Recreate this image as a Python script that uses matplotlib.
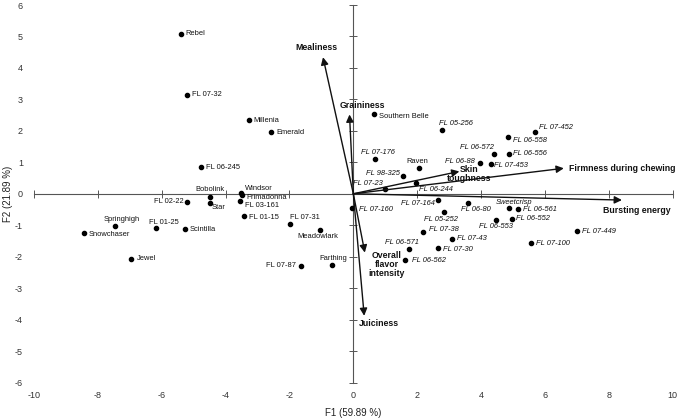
import numpy as np
import matplotlib.pyplot as plt

plt.rcParams['font.family'] = ['Liberation Sans', 'DejaVu Sans']
plt.rcParams['axes.unicode_minus'] = False

# observaciones (cultivares / lineas)
names = ["Rebel", "FL 07-32", "Millenia", "Emerald", "FL 06-245", "Bobolink",
         "Windsor", "Primadonna", "FL 02-22", "Star", "FL 03-161", "FL 01-15",
         "FL 07-31", "Meadowlark", "Springhigh", "FL 01-25", "Scintilla",
         "Snowchaser", "Jewel", "FL 07-87", "Farthing",
         "Southern Belle", "FL 05-256", "FL 07-452", "FL 06-558", "FL 06-572",
         "FL 06-556", "FL 06-88", "FL 07-453", "FL 07-176", "Raven", "FL 98-325",
         "FL 06-244", "FL 07-23",
         "FL 07-164", "FL 06-80", "Sweetcrisp", "FL 06-561", "FL 07-160",
         "FL 05-252", "FL 06-553", "FL 06-552", "FL 07-449", "FL 07-38",
         "FL 07-43", "FL 07-100", "FL 06-571", "FL 07-30", "FL 06-562"]
f1 = [-5.41, -5.20, -3.28, -2.58, -4.76, -4.50,
      -3.51, -3.50, -5.20, -4.49, -3.56, -3.42,
      -1.97, -1.03, -7.46, -6.19, -5.28,
      -8.44, -6.95, -1.64, -0.66,
      0.65, 2.77, 5.68, 4.83, 4.40,
      4.88, 3.96, 4.32, 0.67, 2.07, 1.56,
      1.96, 0.98,
      2.64, 3.58, 4.88, 5.17, -0.03,
      2.85, 4.47, 4.96, 7.00, 2.18,
      3.09, 5.56, 1.75, 2.65, 1.63]
f2 = [5.08, 3.15, 2.34, 1.95, 0.85, -0.10,
      0.02, -0.03, -0.26, -0.29, -0.23, -0.70,
      -0.96, -1.16, -1.04, -1.10, -1.12,
      -1.26, -2.07, -2.29, -2.28,
      2.53, 2.04, 1.95, 1.80, 1.25,
      1.27, 0.97, 0.96, 1.10, 0.83, 0.58,
      0.35, 0.15,
      -0.19, -0.28, -0.44, -0.48, -0.46,
      -0.59, -0.83, -0.80, -1.19, -1.21,
      -1.43, -1.57, -1.74, -1.71, -2.12]

# variables (vectores)
var_names = ["Mealiness", "Graininess", "Skin\ntoughness", "Firmness during chewing",
             "Bursting energy", "Overall\nflavor\nintensity", "Juiciness"]
var_f1 = [-0.95, -0.12, 3.32, 6.59, 8.41, 0.36, 0.34]
var_f2 = [4.34, 2.52, 0.71, 0.81, -0.20, -1.87, -3.88]

xticks = np.arange(-10, 11, 2)
yticks = np.arange(-6, 7, 1)

# posicion de etiquetas (pixeles respecto al punto)
lab_pos = {
    "Rebel": (5, 0, 'left'), "FL 07-32": (5, 0, 'left'), "Millenia": (5, 0, 'left'),
    "Emerald": (5, 0, 'left'), "FL 06-245": (5, 0, 'left'),
    "Bobolink": (0, 7, 'center'), "Windsor": (4, 5, 'left'),
    "Primadonna": (5, -3, 'left'), "FL 02-22": (-4, 0, 'right'),
    "Star": (2, -5, 'left'), "FL 03-161": (5, -5, 'left'), "FL 01-15": (5, -2, 'left'),
    "FL 07-31": (0, 6, 'left'), "Meadowlark": (-3, -6, 'center'),
    "Springhigh": (7, 7, 'center'), "FL 01-25": (8, 6, 'center'),
    "Scintilla": (5, -1, 'left'), "Snowchaser": (5, -1, 'left'), "Jewel": (5, 0, 'left'),
    "FL 07-87": (-5, 0, 'right'), "Farthing": (1, 7, 'center'),
    "Southern Belle": (5, -2, 'left'), "FL 05-256": (-3, 6, 'left'),
    "FL 07-452": (4, 5, 'left'), "FL 06-558": (5, -3, 'left'),
    "FL 06-572": (0, 7, 'right'), "FL 06-556": (4, 0, 'left'),
    "FL 06-88": (-5, 2, 'right'), "FL 07-453": (3, -2, 'left'),
    "FL 07-176": (3, 7, 'center'), "Raven": (-2, 6, 'center'),
    "FL 98-325": (-3, 2, 'right'), "FL 06-244": (3, -7, 'left'),
    "FL 07-23": (-2, 6, 'right'), "FL 07-164": (-3, -4, 'right'),
    "FL 06-80": (8, -7, 'center'), "Sweetcrisp": (5, 5, 'center'),
    "FL 06-561": (5, -1, 'left'), "FL 07-160": (7, -1, 'left'),
    "FL 05-252": (-3, -7, 'center'), "FL 06-553": (0, -7, 'center'),
    "FL 06-552": (4, 0, 'left'), "FL 07-449": (5, 0, 'left'),
    "FL 07-38": (6, 2, 'left'), "FL 07-43": (5, 0, 'left'),
    "FL 07-100": (5, 0, 'left'), "FL 06-571": (-7, 6, 'center'),
    "FL 07-30": (5, -2, 'left'), "FL 06-562": (7, 0, 'left'),
}
upright = {"Rebel", "FL 07-32", "Millenia", "Emerald", "FL 06-245", "Bobolink",
           "Windsor", "Primadonna", "FL 02-22", "Star", "FL 03-161", "FL 01-15",
           "FL 07-31", "Meadowlark", "Springhigh", "FL 01-25", "Scintilla",
           "Snowchaser", "Jewel", "FL 07-87", "Farthing", "Southern Belle", "Raven"}
var_pos = [(-7, 10, 'center'), (13, 9, 'center'), (10, -3, 'center'),
           (5, 0, 'left'), (15, -10, 'center'), (22, -12, 'center'), (-5, -8, 'left')]

fig = plt.figure(figsize=(6.78, 4.18), dpi=100)
rect = [0.0501, 0.0849, 0.9421, 0.9031]

# ejes con las etiquetas de los ticks en los bordes
ax2 = fig.add_axes(rect)
ax2.set_xlim(-10, 10)
ax2.set_ylim(-6, 6)
ax2.set_xticks(xticks)
ax2.set_yticks(yticks)
for s in ax2.spines.values():
    s.set_visible(False)
ax2.tick_params(length=0, labelsize=6.5, labelcolor='#333333', pad=6)
ax2.tick_params(axis='y', pad=8)
ax2.set_xlabel("F1 (59.89 %)", fontsize=7, color='#222222', labelpad=6)
ax2.set_ylabel("F2 (21.89 %)", fontsize=7, color='#222222')
ax2.yaxis.set_label_coords(-0.033, 0.5)
ax2.patch.set_visible(False)

ax = fig.add_axes(rect)
ax.set_xlim(-10, 10)
ax.set_ylim(-6, 6)
ax.patch.set_visible(False)
ax.spines['left'].set_position('zero')
ax.spines['bottom'].set_position('zero')
ax.spines['right'].set_visible(False)
ax.spines['top'].set_visible(False)
for s in ('left', 'bottom'):
    ax.spines[s].set_color('#555555')
    ax.spines[s].set_linewidth(0.8)
ax.set_xticks(xticks)
ax.set_yticks(yticks)
ax.tick_params(direction='inout', length=6, width=0.7, color='#555555',
               labelbottom=False, labelleft=False)

ax.plot(f1, f2, 'o', color='black', markersize=3, zorder=3)

for n, x, y in zip(names, f1, f2):
    dx, dy, ha = lab_pos[n]
    ax.annotate(n, (x, y), xytext=(dx, dy), textcoords='offset pixels',
                ha=ha, va='center', fontsize=5.4, color='#111111',
                style='normal' if n in upright else 'italic')

for n, x, y, (dx, dy, ha) in zip(var_names, var_f1, var_f2, var_pos):
    ax.annotate("", xy=(x, y), xytext=(0, 0),
                arrowprops=dict(arrowstyle='-|>', color='#111111', lw=1.0,
                                mutation_scale=11, shrinkA=0, shrinkB=0))
    ax.annotate(n, (x, y), xytext=(dx, dy), textcoords='offset pixels',
                ha=ha, va='center', fontsize=6.3, fontweight='bold',
                color='#111111', multialignment='center', linespacing=1.0)

plt.savefig("out.png", dpi=100)
